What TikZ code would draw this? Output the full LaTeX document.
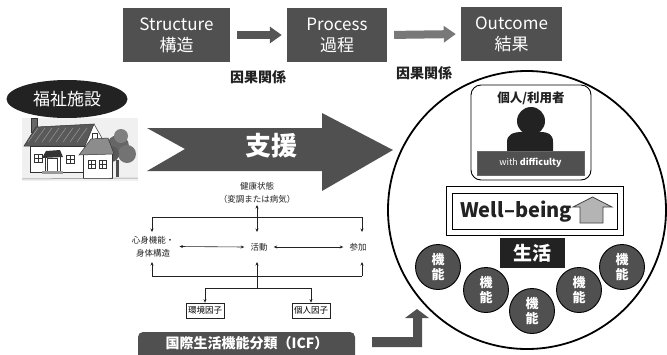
\documentclass[tikz,border=0pt]{standalone}
\usepackage{fontspec}
\setmainfont{Noto Sans CJK JP}
\usetikzlibrary{arrows.meta,shapes.geometric}
\definecolor{boxgray}{HTML}{505050}
\definecolor{arrowdark}{HTML}{555555}
\definecolor{arrowlight}{HTML}{787878}
\definecolor{ink}{HTML}{222222}
\definecolor{upgray}{HTML}{B4B4B4}
\tikzset{
  topbox/.style={fill=boxgray, text=white, inner sep=0pt, align=center,
    minimum height=54, font=\fontsize{17}{21}\selectfont},
  causal/.style={font=\bfseries\fontsize{14}{16}\selectfont, text=ink},
  blockarrow/.style={line width=8pt, shorten <=7pt, shorten >=5pt,
    -{Triangle[length=12pt,width=16pt]}},
  icftext/.style={font=\fontsize{8.5}{13}\selectfont, text=ink, align=center, inner sep=1pt},
  icfline/.style={line width=0.6pt, draw=ink},
  icfarrow/.style={icfline, -{Stealth[length=3.5pt,width=3pt]}},
  icfboth/.style={icfline, {Stealth[length=3.5pt,width=3pt]}-{Stealth[length=3.5pt,width=3pt]}},
  factor/.style={draw=ink, line width=0.7pt, font=\fontsize{8.5}{10}\selectfont,
    inner sep=2pt, minimum height=15},
  func/.style={circle, fill=boxgray, draw=black, line width=0.9pt, minimum size=45,
    inner sep=0pt, text=white, align=center, font=\bfseries\fontsize{13}{15}\selectfont},
}
\begin{document}
\begin{tikzpicture}[x=1pt,y=-1pt]
\useasboundingbox (0,0) rectangle (667,354);

% ---- Structure -> Process -> Outcome ----
\node[topbox, minimum width=107] (str) at (176.5,35) {Structure\\構造};
\node[topbox, minimum width=100] (proc) at (337,35) {Process\\過程};
\node[topbox, minimum width=101] (out) at (511.5,34) {Outcome\\結果};
\draw[blockarrow, draw=arrowdark] (str.east) -- (proc.west);
\draw[blockarrow, draw=arrowlight] (proc.east) -- (out.west);
\node[causal] (c1) at (258,77) {因果関係};
\node[causal] (c2) at (424,73) {因果関係};

% ---- welfare facility ----
\node[ellipse, fill=ink, text=white, minimum width=121, minimum height=38,
  inner sep=0pt, font=\fontsize{17}{19}\selectfont] (fac) at (67,99) {福祉施設};

% house sketch
\begin{scope}[line width=0.5pt, draw=black!80]
  \fill[gray!12] (22,118) rectangle (138,181);
  % tree behind the annex
  \fill[black!60] (118,146) circle[radius=11];
  \fill[black!55] (127,154) circle[radius=9];
  \fill[black!65] (111,154) circle[radius=8];
  \fill[black!50] (121,136) circle[radius=7];
  \fill[black!70] (116,160) rectangle (119,177);
  % chimney
  \filldraw[fill=black!60] (31,118) rectangle (37,132);
  % main roof
  \filldraw[fill=black!65] (24,146) -- (36,127) -- (94,124) -- (85,146) -- cycle;
  \foreach \k in {0,1,...,7} {\draw[white!60!black] (28+7*\k,142) -- (38+7*\k,128);}
  % gable wall
  \filldraw[fill=white] (85,146) -- (94,124) -- (107,147) -- (107,162) -- (85,162) -- cycle;
  \draw (92,133) rectangle (97,139);
  % front wall
  \filldraw[fill=white] (30,146) rectangle (85,172);
  % windows
  \foreach \wx/\wy in {34/154, 66/155} {
    \draw (\wx,\wy) rectangle ++(8,8);
    \draw (\wx+4,\wy) -- (\wx+4,\wy+8);
    \draw (\wx,\wy+4) -- (\wx+8,\wy+4);
  }
  % porch and door
  \fill[black!80] (42,158) -- (46,151) -- (60,150) -- (63,157) -- cycle;
  \draw (47,158) rectangle (57,171);
  \draw (45,158) -- (45,171) (60,157) -- (60,171);
  \fill[black!40] (42,171) rectangle (63,174);
  % annex
  \filldraw[fill=white] (83,153) rectangle (112,178);
  \filldraw[fill=black!45] (79,155) -- (91,139) -- (108,138) -- (114,154) -- cycle;
  \foreach \wx in {88,99} {
    \draw (\wx,160) rectangle ++(7,8);
    \draw (\wx+3.5,160) -- (\wx+3.5,168);
    \draw (\wx,164) -- (\wx+7,164);
  }
  \draw[black!50] (22,179) -- (138,178);
\end{scope}

% ---- support arrow ----
\fill[boxgray] (147,128) -- (322,128) -- (322,113) -- (393,150) -- (322,191)
  -- (322,171) -- (147,171) -- (185,149) -- cycle;
\node[text=white, font=\bfseries\fontsize{26}{28}\selectfont] (sup) at (271,146) {支援};

% ---- ICF model ----
\node[icftext] (health) at (257,192.5) {健康状態\\（変調または病気）};
\node[icftext] (body) at (153,246.5) {心身機能・\\身体構造};
\node[icftext] (act) at (259,247) {活動};
\node[icftext] (part) at (358,247) {参加};
\node[factor] (env) at (205,310.5) {環境因子};
\node[factor] (pers) at (311,310.5) {個人因子};

\coordinate (topL) at (152,217);
\coordinate (topR) at (362,217);
\coordinate (botL) at (152,276);
\coordinate (botR) at (362,276);
\coordinate (mid) at (257,288);
\coordinate (envL) at (205,288);
\coordinate (persR) at (311,288);

\draw[icfboth] (257,205) -- (257,232);
\draw[icfline] (topL) -- (topR);
\draw[icfarrow] (topL) -- (152,232);
\draw[icfarrow] (topR) -- (362,232);
\draw[icfboth] ([xshift=4]body.east) -- ([xshift=-5]act.west);
\draw[icfboth] ([xshift=5]act.east) -- ([xshift=-5]part.west);
\draw[icfline] (botL) -- (botR);
\draw[icfarrow] (botL) -- (152,262);
\draw[icfarrow] (botR) -- (362,262);
\draw[icfarrow] (mid) -- (257,262);
\draw[icfline] (envL) -- (persR);
\draw[icfarrow] (envL) -- (env.north);
\draw[icfarrow] (persR) -- (pers.north);

% ICF banner
\fill[boxgray, rounded corners=5pt] (138,360) -- (138,332) -- (355,332) -- (355,360);
\node[text=white, font=\bfseries\fontsize{14}{16}\selectfont] (icf) at (247,343) {国際生活機能分類（ICF）};

% bent arrow up into the circle
\fill[boxgray] (372,337) -- (413,337) -- (413,318) -- (405,318) -- (417,309)
  -- (429,318) -- (422,318) -- (422,347) -- (372,347) -- cycle;

% ---- person-centred circle ----
\draw[line width=1.8pt, black] (527,210) circle[radius=139];

\node[draw=black, line width=0.9pt, rounded corners=10pt, minimum width=120,
  minimum height=95, inner sep=0pt, fill=white] (user) at (531,132.5) {};
\node[font=\bfseries\fontsize{12.5}{14}\selectfont, text=ink] (ulabel) at (531,98) {個人/利用者};
\fill[ink] (531,121) circle[radius=14];
\fill[ink] (507,151) -- (507,142) .. controls (507,134) and (514,132) .. (522,132)
  -- (540,132) .. controls (548,132) and (553,134) .. (553,142) -- (553,151) -- cycle;
\node[fill=boxgray, draw=black!60, line width=0.6pt, minimum width=107, minimum height=24,
  inner sep=0pt, text=white, font=\fontsize{9}{10}\selectfont] (diff) at (530.5,163)
  {with \textbf{difficulty}};

% well-being box
\node[draw=black, line width=1pt, minimum width=165, minimum height=36, inner sep=0pt] (wb) at (534.5,211) {};
\draw[line width=1pt] ([shift={(-5,-6)}]wb.north west) rectangle ([shift={(6,6)}]wb.south east);
\node[anchor=west, font=\bfseries\fontsize{20}{23}\selectfont, text=ink, inner sep=0pt] (wbt) at (460,212) {Well–being};
\filldraw[fill=upgray, draw=black!75, line width=0.8pt] (573,207) -- (592.5,197) -- (612,207)
  -- (603,207) -- (603,223) -- (580,223) -- (580,207) -- cycle;

% life box
\node[fill=ink, text=white, minimum width=65, minimum height=30, inner sep=0pt,
  font=\bfseries\fontsize{19}{21}\selectfont] (life) at (532.5,253) {生活};

% functioning circles
\node[func] (f1) at (438,267) {機\\能};
\node[func] (f2) at (486,290) {機\\能};
\node[func] (f3) at (532,311) {機\\能};
\node[func] (f4) at (579,290) {機\\能};
\node[func] (f5) at (622,267) {機\\能};
\end{tikzpicture}
\end{document}
